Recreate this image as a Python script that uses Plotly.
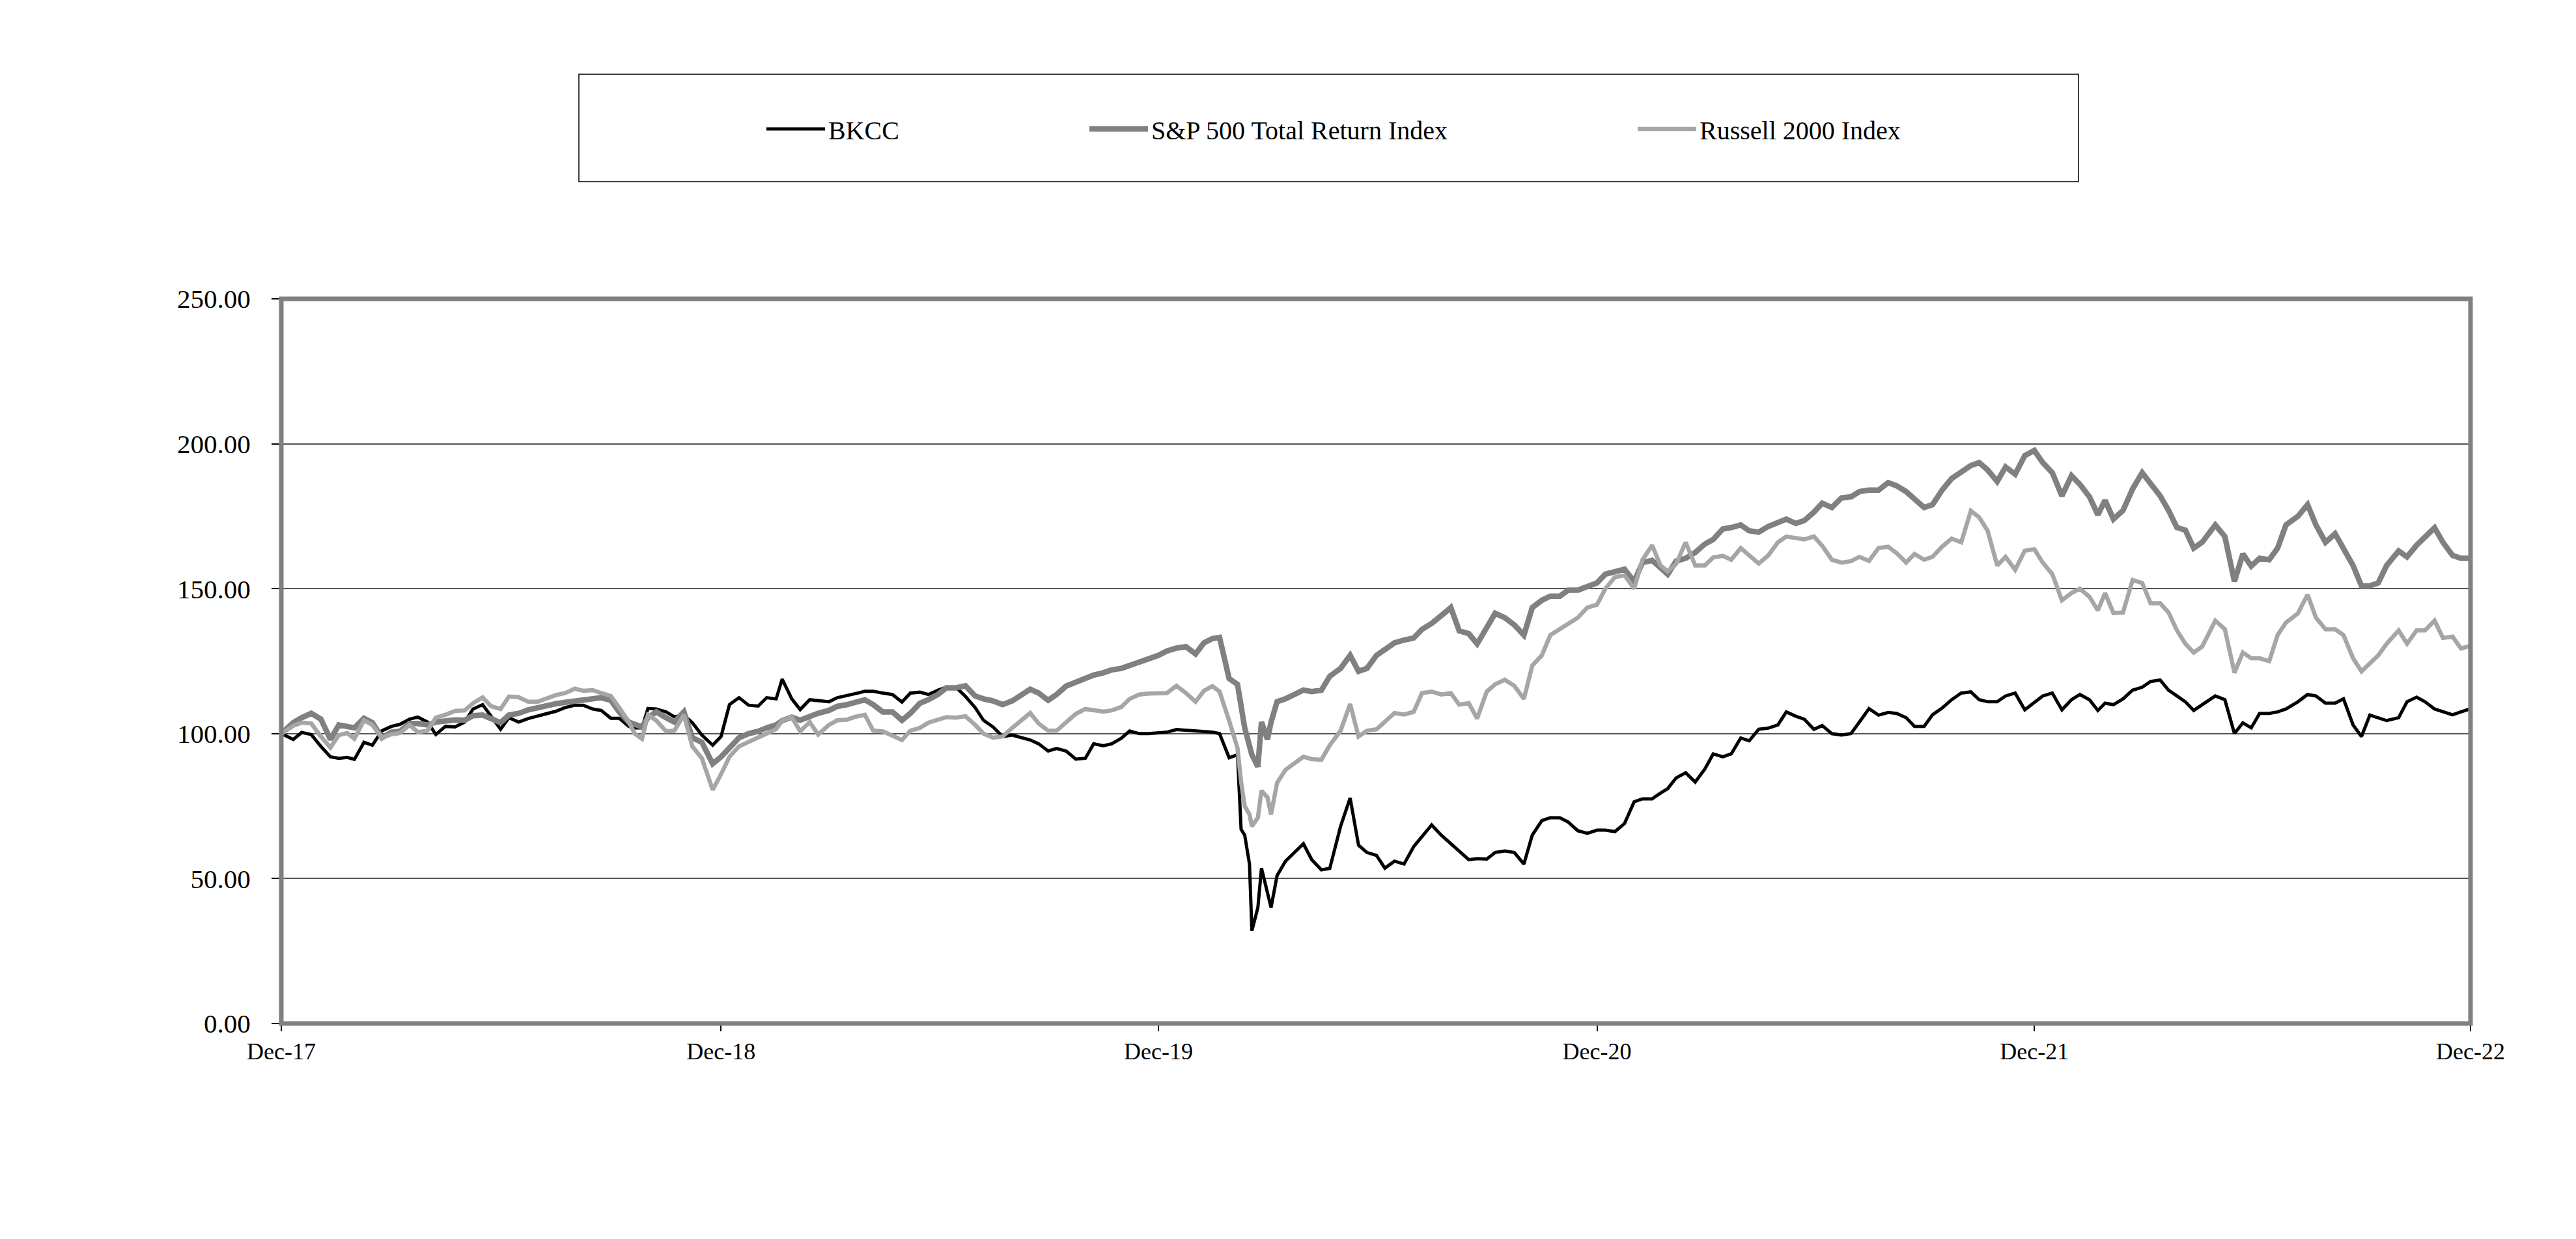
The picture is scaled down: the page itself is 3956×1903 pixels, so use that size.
import plotly.graph_objects as go

# ---- data ----
dates = [
    "2017-12-29",
    "2018-01-08", "2018-01-15", "2018-01-23", "2018-01-31",
    "2018-02-08", "2018-02-15", "2018-02-22", "2018-02-28",
    "2018-03-08", "2018-03-15", "2018-03-23", "2018-03-31",
    "2018-04-07", "2018-04-15", "2018-04-22", "2018-04-30",
    "2018-05-07", "2018-05-15", "2018-05-23", "2018-05-31",
    "2018-06-07", "2018-06-15", "2018-06-22", "2018-06-30",
    "2018-07-07", "2018-07-15", "2018-07-23", "2018-07-31",
    "2018-08-07", "2018-08-15", "2018-08-23", "2018-08-31",
    "2018-09-07", "2018-09-15", "2018-09-22", "2018-09-30",
    "2018-10-07", "2018-10-15", "2018-10-20", "2018-10-26", "2018-10-31",
    "2018-11-07", "2018-11-15", "2018-11-22", "2018-11-30",
    "2018-12-07", "2018-12-15", "2018-12-24", "2018-12-31",
    "2019-01-07", "2019-01-15", "2019-01-23", "2019-01-31",
    "2019-02-07", "2019-02-15", "2019-02-20", "2019-02-28",
    "2019-03-07", "2019-03-15", "2019-03-22", "2019-03-31",
    "2019-04-07", "2019-04-15", "2019-04-22", "2019-04-30",
    "2019-05-07", "2019-05-15", "2019-05-23", "2019-05-31",
    "2019-06-07", "2019-06-15", "2019-06-22", "2019-06-30",
    "2019-07-07", "2019-07-15", "2019-07-23", "2019-07-31",
    "2019-08-07", "2019-08-15", "2019-08-23", "2019-08-31",
    "2019-09-15", "2019-09-22", "2019-09-30",
    "2019-10-07", "2019-10-15", "2019-10-23", "2019-10-31",
    "2019-11-07", "2019-11-15", "2019-11-22", "2019-11-30",
    "2019-12-07", "2019-12-15", "2019-12-23", "2019-12-31",
    "2020-01-07", "2020-01-15", "2020-01-23", "2020-01-31",
    "2020-02-07", "2020-02-14", "2020-02-20", "2020-02-28",
    "2020-03-06", "2020-03-09", "2020-03-12", "2020-03-16", "2020-03-18",
    "2020-03-23", "2020-03-26", "2020-03-31",
    "2020-04-03", "2020-04-08", "2020-04-15", "2020-04-30",
    "2020-05-07", "2020-05-15", "2020-05-22", "2020-05-31",
    "2020-06-08", "2020-06-15", "2020-06-22", "2020-06-30",
    "2020-07-07", "2020-07-15", "2020-07-23", "2020-07-31",
    "2020-08-07", "2020-08-15", "2020-08-23", "2020-08-31",
    "2020-09-07", "2020-09-15", "2020-09-22", "2020-09-30",
    "2020-10-07", "2020-10-15", "2020-10-23", "2020-10-31",
    "2020-11-07", "2020-11-15", "2020-11-22", "2020-11-30",
    "2020-12-07", "2020-12-15", "2020-12-23", "2020-12-31",
    "2021-01-07", "2021-01-15", "2021-01-23", "2021-01-31",
    "2021-02-07", "2021-02-15", "2021-02-22", "2021-02-28",
    "2021-03-07", "2021-03-15", "2021-03-23", "2021-03-31",
    "2021-04-07", "2021-04-15", "2021-04-22", "2021-04-30",
    "2021-05-07", "2021-05-15", "2021-05-23", "2021-05-31",
    "2021-06-07", "2021-06-15", "2021-06-22", "2021-06-30",
    "2021-07-07", "2021-07-15", "2021-07-23", "2021-07-31",
    "2021-08-07", "2021-08-15", "2021-08-23", "2021-08-31",
    "2021-09-07", "2021-09-15", "2021-09-22", "2021-09-30",
    "2021-10-07", "2021-10-15", "2021-10-23", "2021-10-31",
    "2021-11-08", "2021-11-15", "2021-11-22", "2021-11-30",
    "2021-12-07", "2021-12-15", "2021-12-23", "2021-12-31",
    "2022-01-07", "2022-01-15", "2022-01-23", "2022-01-31",
    "2022-02-07", "2022-02-15", "2022-02-22", "2022-02-28",
    "2022-03-07", "2022-03-15", "2022-03-23", "2022-03-31",
    "2022-04-07", "2022-04-15", "2022-04-22", "2022-04-29",
    "2022-05-06", "2022-05-13", "2022-05-20", "2022-05-31",
    "2022-06-08", "2022-06-16", "2022-06-23", "2022-06-30",
    "2022-07-07", "2022-07-15", "2022-07-22", "2022-07-29",
    "2022-08-08", "2022-08-16", "2022-08-23", "2022-08-31",
    "2022-09-08", "2022-09-15", "2022-09-23", "2022-09-30",
    "2022-10-07", "2022-10-14", "2022-10-21", "2022-10-31",
    "2022-11-07", "2022-11-15", "2022-11-22", "2022-11-30",
    "2022-12-07", "2022-12-15", "2022-12-22", "2022-12-30",
]

bkcc = [
    100.0,
    98.0, 100.4, 99.7, 95.6,
    92.0, 91.5, 91.8, 91.1,
    97.0, 96.0, 101.0, 102.5,
    103.2, 105.0, 105.7, 104.0,
    99.7, 102.5, 102.3, 104.0,
    108.5, 110.0, 106.0, 101.5,
    105.5, 104.0, 105.2, 106.0,
    106.8, 107.7, 109.0, 109.8,
    109.8, 108.5, 108.0, 105.3,
    105.3, 102.5, 102.0, 102.0, 108.7,
    108.5, 107.5, 105.8, 106.4,
    103.8, 99.5, 96.0, 99.0,
    110.0, 112.4, 109.8, 109.5,
    112.4, 112.0, 118.8, 112.0,
    108.3, 111.7, 111.5, 111.0,
    112.4, 113.0, 113.8, 114.6,
    114.6, 114.0, 113.5, 110.9,
    114.0, 114.3, 113.5, 115.0,
    116.0, 116.0, 112.8, 109.0,
    104.6, 102.3, 99.0, 99.5,
    97.8, 96.5, 94.0,
    94.9, 94.0, 91.2, 91.5,
    96.5, 95.8, 96.5, 98.4,
    100.9, 100.0, 100.0, 100.4,
    100.5, 101.4, 101.2, 101.0,
    100.8, 100.5, 100.0, 91.7,
    92.7, 67.0, 65.0, 55.0, 32.0,
    40.0, 53.6, 45.0,
    40.0, 51.0, 56.0, 62.0,
    56.5, 53.0, 53.5, 68.0,
    77.8, 61.5, 59.0, 58.0,
    53.6, 56.0, 55.0, 61.0,
    64.5, 68.5, 65.0, 62.0,
    59.5, 56.5, 56.9, 56.7,
    59.0, 59.5, 59.0, 55.0,
    65.0, 70.0, 71.0, 71.0,
    69.5, 66.5, 65.6, 66.7,
    66.7, 66.2, 69.0, 76.5,
    77.5, 77.5, 79.5, 81.0,
    84.7, 86.5, 83.3, 87.8,
    93.0, 92.0, 93.0, 98.5,
    97.5, 101.5, 101.9, 103.0,
    107.5, 106.0, 105.0, 101.5,
    102.8, 100.0, 99.5, 100.0,
    104.0, 108.6, 106.4, 107.3,
    107.0, 105.5, 102.5, 102.5,
    106.5, 108.8, 111.7, 114.0,
    114.4, 111.7, 111.0, 111.0,
    113.0, 114.0, 108.2, 110.8,
    113.0, 114.0, 108.2, 111.7,
    113.5, 111.7, 108.0, 110.5,
    110.0, 112.0, 115.0, 116.0,
    118.0, 118.5, 115.0, 113.0,
    111.0, 108.0, 110.0, 113.0,
    111.7, 100.0, 103.7, 102.0,
    107.0, 107.0, 107.5, 108.5,
    111.0, 113.5, 113.0, 110.5,
    110.5, 112.0, 103.0, 99.0,
    106.4, 105.5, 104.5, 105.5,
    111.0, 112.6, 111.0, 108.5,
    107.5, 106.5, 107.5, 108.6,
]

sp500_tr = [
    100.0,
    103.8, 105.5, 107.0, 105.0,
    98.0, 103.0, 102.5, 102.0,
    105.3, 103.8, 98.6, 100.5,
    100.8, 103.5, 103.5, 103.0,
    104.0, 104.5, 104.7, 104.6,
    106.2, 106.4, 105.0, 103.8,
    106.4, 107.0, 108.2, 109.0,
    109.5, 110.3, 110.8, 111.3,
    111.6, 111.8, 112.4, 111.5,
    107.5, 104.0, 103.0, 102.3, 105.5,
    107.5, 105.5, 104.0, 107.5,
    98.6, 97.0, 89.6, 92.0,
    95.0, 98.6, 100.0, 100.8,
    102.0, 103.0, 104.5, 105.7,
    104.6, 106.0, 107.0, 108.0,
    109.4, 110.0, 111.0, 111.7,
    110.0, 107.5, 107.5, 104.6,
    107.0, 110.5, 111.7, 113.5,
    115.8, 115.8, 116.5, 113.0,
    112.0, 111.3, 110.0, 111.3,
    115.3, 114.0, 111.5,
    113.5, 116.4, 117.7, 119.4,
    120.2, 121.0, 122.0, 122.5,
    123.5, 124.5, 126.0, 127.0,
    128.5, 129.5, 130.0, 127.5,
    131.3, 132.8, 133.2, 119.0,
    117.0, 108.0, 102.0, 95.8, 92.7,
    88.6, 104.0, 98.0,
    104.0, 111.0, 112.0, 115.0,
    114.5, 115.0, 119.8, 122.5,
    127.0, 121.5, 122.5, 127.0,
    129.0, 131.3, 132.3, 133.0,
    136.0, 138.0, 140.7, 143.5,
    135.5, 134.5, 131.0, 136.6,
    141.5, 140.0, 137.5, 134.0,
    143.5, 146.0, 147.4, 147.4,
    149.5, 149.5, 150.5, 152.0,
    155.0, 156.0, 156.7, 152.5,
    159.0, 159.8, 157.0, 155.0,
    159.5, 160.5, 162.5, 165.4,
    167.0, 170.6, 171.1, 172.0,
    170.0, 169.5, 171.5, 172.9,
    174.0, 172.5, 173.5, 176.4,
    179.5, 178.0, 181.3, 181.7,
    183.5, 184.0, 184.0, 186.6,
    185.5, 183.5, 181.0, 178.0,
    179.0, 184.0, 188.0, 190.0,
    192.5, 193.5, 191.0, 187.0,
    192.0, 189.5, 195.9, 197.7,
    193.5, 190.0, 182.0, 189.0,
    186.0, 181.7, 175.5, 180.5,
    174.0, 177.0, 184.4, 190.0,
    186.0, 182.0, 177.0, 171.1,
    170.2, 164.0, 166.0, 172.0,
    168.0, 152.5, 162.0, 157.8,
    160.5, 160.0, 164.0, 172.0,
    175.0, 179.0, 172.0, 166.0,
    169.0, 164.0, 158.0, 151.0,
    151.0, 152.0, 158.0, 163.0,
    161.0, 165.0, 167.6, 171.0,
    166.0, 161.5, 160.5, 160.5,
]

russell_2000 = [
    100.0,
    102.7, 103.8, 103.5, 99.0,
    95.2, 99.5, 100.2, 98.2,
    104.6, 103.0, 98.6, 99.8,
    100.2, 103.0, 100.5, 101.0,
    105.5, 106.5, 107.8, 108.0,
    110.5, 112.5, 109.5, 108.5,
    112.8, 112.6, 111.0, 111.0,
    112.0, 113.3, 114.0, 115.5,
    114.8, 115.0, 114.0, 113.0,
    109.0, 104.0, 100.0, 98.2, 106.5,
    104.5, 100.8, 101.0, 106.5,
    95.6, 91.5, 80.6, 86.0,
    92.0, 95.6, 97.0, 98.6,
    100.0, 101.6, 104.5, 105.7,
    100.8, 104.0, 99.7, 103.0,
    104.6, 104.8, 105.8, 106.5,
    101.0, 100.8, 99.3, 97.8,
    101.0, 102.0, 103.8, 105.0,
    105.7, 105.5, 106.0, 103.0,
    100.0, 98.6, 99.0, 102.0,
    107.1, 103.5, 101.0,
    101.0, 104.0, 106.8, 108.5,
    108.0, 107.6, 108.0, 109.2,
    112.0, 113.5, 113.8, 114.0,
    114.0, 116.5, 114.0, 111.0,
    114.8, 116.4, 114.5, 104.5,
    95.0, 83.4, 75.0, 72.1, 68.0,
    71.0, 80.3, 78.0,
    72.1, 83.0, 87.5, 92.0,
    91.2, 91.0, 96.0, 101.0,
    110.2, 99.0, 101.0, 101.5,
    104.0, 107.1, 106.6, 107.5,
    114.0, 114.5, 113.5, 114.0,
    110.0, 110.5, 105.2, 114.5,
    117.0, 118.6, 116.5, 112.0,
    123.5, 127.0, 134.0, 136.0,
    138.0, 140.0, 143.5, 144.5,
    150.0, 154.0, 154.6, 150.0,
    160.0, 165.0, 158.0, 156.0,
    158.5, 166.0, 158.0, 158.0,
    160.8, 161.3, 160.0, 164.0,
    161.5, 158.7, 161.5, 166.0,
    168.0, 167.4, 167.0, 168.0,
    164.8, 160.0, 159.0, 159.5,
    161.0, 159.6, 164.0, 164.5,
    162.3, 159.0, 162.0, 160.0,
    161.0, 164.5, 167.3, 166.0,
    176.9, 174.6, 170.0, 158.0,
    161.0, 156.5, 163.1, 163.6,
    159.0, 155.0, 146.0, 148.5,
    150.0, 147.2, 142.5, 148.5,
    141.6, 141.8, 153.0, 152.0,
    145.0, 145.0, 141.8, 135.6,
    131.0, 128.0, 130.0, 139.0,
    136.0, 121.0, 128.0, 126.0,
    126.0, 125.0, 134.0, 138.3,
    141.5, 148.0, 140.0, 136.0,
    136.0, 134.0, 126.0, 121.5,
    124.1, 127.0, 131.0, 135.6,
    131.0, 135.6, 135.6, 139.0,
    133.0, 133.5, 129.4, 130.3,
]

series_names = ["BKCC", "S&P 500 Total Return Index", "Russell 2000 Index"]
tick_dates = ["2017-12-29", "2018-12-31", "2019-12-31", "2020-12-31", "2021-12-31", "2022-12-30"]
tick_labels = ["Dec-17", "Dec-18", "Dec-19", "Dec-20", "Dec-21", "Dec-22"]
y_ticks = [0, 50, 100, 150, 200, 250]

assert len(dates) == len(bkcc) == len(sp500_tr) == len(russell_2000)

FONT = "Liberation Serif"
W, H = 3956, 1903
ML, MR, MT, MB = 432, 162, 459, 331
PW = W - ML - MR
PH = H - MT - MB


def px_x(px):
    return (px - ML) / PW


def px_y(py):
    return (H - MB - py) / PH


fig = go.Figure()
styles = [("#000000", 5), ("#808080", 8.5), ("#a6a6a6", 6.5)]
values = [bkcc, sp500_tr, russell_2000]
legend_ids = ["legend", "legend2", "legend3"]
for name, vals, (col, lw), lg in zip(series_names, values, styles, legend_ids):
    fig.add_trace(go.Scatter(
        x=dates, y=vals, name=name, mode="lines",
        line=dict(color=col, width=lw, shape="linear"),
        legend=lg,
    ))

legend_common = dict(
    orientation="h", bgcolor="rgba(0,0,0,0)", borderwidth=0,
    font=dict(family=FONT, size=40, color="#000000"),
    yanchor="middle", xanchor="left", itemwidth=90,
)
leg_y = px_y(198)
fig.update_layout(
    legend=dict(x=px_x(1172), y=leg_y, **legend_common),
    legend2=dict(x=px_x(1668), y=leg_y, **legend_common),
    legend3=dict(x=px_x(2510), y=leg_y, **legend_common),
)

# legend frame box
fig.add_shape(type="rect", xref="paper", yref="paper",
              x0=px_x(889), x1=px_x(3192), y0=px_y(279), y1=px_y(114),
              line=dict(color="#000000", width=1.5), fillcolor="rgba(0,0,0,0)")
# plot area frame
fig.add_shape(type="rect", xref="paper", yref="paper", x0=0, x1=1, y0=0, y1=1,
              line=dict(color="#808080", width=7), layer="above")

fig.update_layout(
    width=W, height=H,
    margin=dict(l=ML, r=MR, t=MT, b=MB, pad=0),
    paper_bgcolor="#ffffff", plot_bgcolor="#ffffff",
    showlegend=True,
    font=dict(family=FONT, color="#000000"),
    xaxis=dict(
        type="date", range=[tick_dates[0], tick_dates[-1]],
        tickmode="array", tickvals=tick_dates, ticktext=tick_labels,
        ticks="outside", ticklen=11, tickwidth=1.5, tickcolor="#000000",
        showgrid=False, zeroline=False, showline=False,
        tickfont=dict(family=FONT, size=36, color="#000000"),
    ),
    yaxis=dict(
        range=[0, 250], tickmode="array", tickvals=y_ticks,
        tickformat=".2f",
        ticks="outside", ticklen=14, tickwidth=1.5, tickcolor="#000000",
        showgrid=True, gridcolor="#555555", gridwidth=1.8,
        zeroline=False, showline=False,
        ticklabelstandoff=24,
        tickfont=dict(family=FONT, size=41, color="#000000"),
    ),
)

fig.write_html("out.html")
